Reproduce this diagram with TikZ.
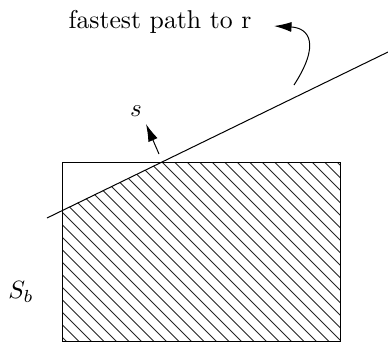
\documentclass[tikz,border=0pt]{standalone}
\usetikzlibrary{arrows.meta}
\begin{document}
\begin{tikzpicture}[x=0.4pt,y=-0.4pt,
  edge/.style={line width=0.4pt},
  hatch/.style={line width=0.33pt,black!85},
  arr/.style={line width=0.4pt,-{Latex[length=7pt,width=4pt]}},
  lbl/.style={inner sep=0pt,font=\fontsize{10.3}{12}\selectfont}]
\useasboundingbox (0,0) rectangle (388,342);
% hatched region (below the line)
\begin{scope}
  \clip (63,210) -- (162,162) -- (341,162) -- (341,341) -- (63,341) -- cycle;
  \foreach \k in {-23,...,15} {
    \draw[hatch] ({162+12.5*\k-20},142) -- ({162+12.5*\k+220},382);
  }
\end{scope}
% rectangle S_b
\coordinate (rtl) at (63,162);
\coordinate (rbr) at (341,341);
\draw[edge] (rtl) rectangle (rbr);
% straight line
\coordinate (la) at (47,218);
\coordinate (lb) at (388,52);
\draw[edge] (la) -- (lb);
% normal arrow s
\coordinate (sa) at (159,154);
\coordinate (sb) at (146,124);
\draw[arr] (sa) -- (sb);
\node[lbl] (s) at (136,111) {$s$};
% fastest path label
\node[lbl] (fp) at (160,22) {fastest path to r};
\coordinate (ca) at (294,85);
\coordinate (cb) at (274,26);
\draw[arr] (ca) .. controls (320,45) and (310,28) .. (cb);
\node[lbl] (sbl) at (21,292) {$S_b$};
\end{tikzpicture}
\end{document}
